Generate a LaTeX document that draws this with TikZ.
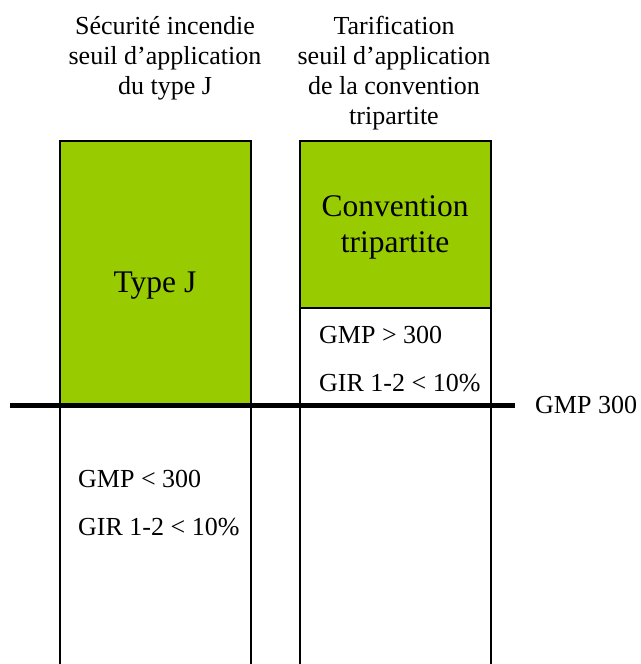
\documentclass[tikz,border=0pt]{standalone}
\usepackage{fontspec}
\setmainfont{Liberation Serif}
\usetikzlibrary{positioning}

\definecolor{vertpomme}{HTML}{99CC00}

\tikzset{
  cadre/.style = {draw, line width=1.2pt},
  titre/.style = {align=center, inner sep=0pt, font=\fontsize{26}{30}\selectfont},
  grand/.style = {align=center, inner sep=0pt, font=\fontsize{31.5}{36}\selectfont},
  critere/.style = {inner sep=0pt, anchor=base west, font=\fontsize{26}{30}\selectfont},
}

\begin{document}
\begin{tikzpicture}[x=1pt, y=-1pt]
  \useasboundingbox (0,0) rectangle (640,664);

  % colonne securite incendie
  \fill[vertpomme] (60,141) rectangle (251,404);
  \draw[cadre] (60,664) -- (60,141) -- (251,141) -- (251,664);
  \node[titre, anchor=north] (secu) at (165,16)
    {Sécurité incendie\\seuil d’application\\du type J};
  \node[grand, anchor=base] (typej) at (155,292) {Type J};
  \node[critere] (gmpinf) at (78,487) {GMP < 300};
  \node[critere] (girg) at (78,535) {GIR 1-2 < 10\%};

  % colonne tarification
  \fill[vertpomme] (300,141) rectangle (491,308);
  \draw[cadre] (300,664) -- (300,141) -- (491,141) -- (491,664);
  \draw[cadre] (300,308) -- (491,308);
  \node[titre, anchor=north] (tarif) at (394,16)
    {Tarification\\seuil d’application\\de la convention\\tripartite};
  \node[grand, anchor=north] (conv) at (395,195) {Convention\\tripartite};
  \node[critere] (gmpsup) at (319,343) {GMP > 300};
  \node[critere] (gird) at (319,391) {GIR 1-2 < 10\%};

  % seuil GMP 300
  \coordinate (seuilg) at (10,405);
  \coordinate (seuild) at (515,405);
  \draw[line width=5pt] (seuilg) -- (seuild);
  \node[critere] (gmp) at (535,413) {GMP 300};
\end{tikzpicture}
\end{document}
